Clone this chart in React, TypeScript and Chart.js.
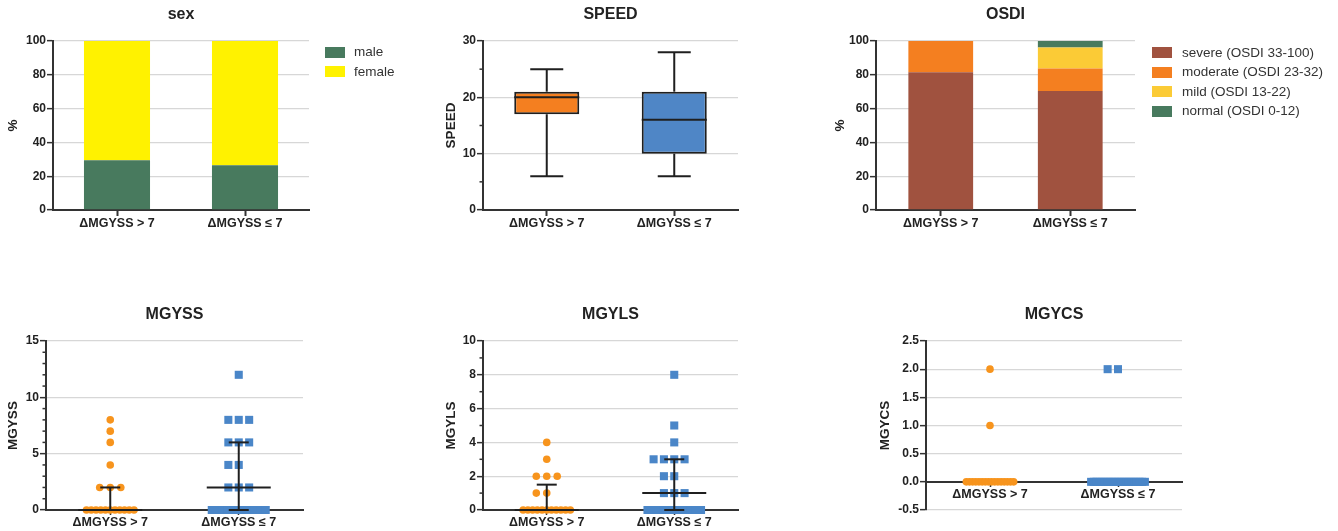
import React, { useEffect, useRef } from 'react';
import { Chart, registerables } from 'chart.js';

Chart.register(...registerables);

const FONT = "'Liberation Sans', Arial, Helvetica, sans-serif";
const AXIS_COLOR = '#333333';
const GRID_COLOR = '#d7d7d7';
const TEXT_COLOR = '#222222';
const MARK_COLOR = '#1f1f1f';
const ORANGE = '#f7941d';
const BLUE = '#4a86c8';

// ---------- data ----------
const groups = ['ΔMGYSS > 7', 'ΔMGYSS ≤ 7'];

const sexLabels = ['male', 'female'];
const sexMale = [29.4, 26.5];
const sexFemale = [70.6, 73.5];
const sexColors = ['#487a5e', '#fff200'];

const speedMin = [6, 6];
const speedQ1 = [17, 10];
const speedMedian = [20, 16];
const speedQ3 = [21, 21];
const speedMax = [25, 28];
const speedColors = ['#f47f20', '#4f86c6'];

const osdiLabels = ['severe (OSDI 33-100)', 'moderate (OSDI 23-32)', 'mild (OSDI 13-22)', 'normal (OSDI 0-12)'];
const osdiSevere = [81.5, 70.4];
const osdiModerate = [18.5, 13.3];
const osdiMild = [0, 12.5];
const osdiNormal = [0, 3.8];
const osdiColors = ['#a0523f', '#f47f20', '#fbcb36', '#487a5e'];

const mgyssGroup1 = [0, 0, 0, 0, 0, 0, 0, 0, 0, 0, 0, 2, 2, 2, 4, 6, 7, 8];
const mgyssGroup2 = [0, 0, 0, 0, 0, 0, 0, 0, 0, 0, 0, 2, 2, 2, 4, 4, 6, 6, 6, 8, 8, 8, 12];
const mgyssMedian = [0, 2];
const mgyssQ1 = [0, 0];
const mgyssQ3 = [2, 6];

const mgylsGroup1 = [0, 0, 0, 0, 0, 0, 0, 0, 0, 0, 0, 1, 1, 2, 2, 2, 3, 4];
const mgylsGroup2 = [0, 0, 0, 0, 0, 0, 0, 0, 0, 0, 0, 1, 1, 1, 2, 2, 3, 3, 3, 3, 4, 5, 8];
const mgylsMedian = [0, 1];
const mgylsQ1 = [0, 0];
const mgylsQ3 = [1.5, 3];

const mgycsGroup1 = [0, 0, 0, 0, 0, 0, 0, 0, 0, 0, 0, 0, 0, 0, 0, 0, 1, 2];
const mgycsGroup2 = [0, 0, 0, 0, 0, 0, 0, 0, 0, 0, 0, 0, 0, 0, 0, 0, 0, 0, 0, 0, 0, 2, 2];

// ---------- helpers ----------
// column scatter layout: points with equal value are spread side by side
function swarm(values: number[], center: number, step: number, span: number) {
  const counts = new Map<number, number>();
  values.forEach((v) => counts.set(v, (counts.get(v) || 0) + 1));
  const seen = new Map<number, number>();
  return values.map((v) => {
    const k = counts.get(v) as number;
    const i = seen.get(v) || 0;
    seen.set(v, i + 1);
    let off: number;
    if (k > 4) off = (i - (k - 1) / 2) * (span / (k - 1));
    else off = (i - Math.floor(k / 2)) * step;
    return { x: center + off, y: v };
  });
}

function yScale(o: { min: number; max: number; step: number; title: string; width: number; titlePad: number; decimals?: number }) {
  return {
    type: 'linear',
    position: 'left',
    min: o.min,
    max: o.max,
    ticks: {
      stepSize: o.step,
      autoSkip: false,
      color: TEXT_COLOR,
      padding: 1,
      font: { family: FONT, size: 12, weight: 'bold' },
      callback: (v: any) => (o.decimals ? Number(v).toFixed(o.decimals) : String(v)),
    },
    grid: {
      color: (c: any) => (c.tick && Math.abs(c.tick.value) < 1e-9 ? 'rgba(0,0,0,0)' : GRID_COLOR),
      lineWidth: 1.3,
      drawTicks: true,
      tickLength: 6,
      tickColor: AXIS_COLOR,
      tickWidth: 1.5,
    },
    border: { display: true, color: AXIS_COLOR, width: 2 },
    title: {
      display: true,
      text: o.title,
      color: TEXT_COLOR,
      font: { family: FONT, size: 13.5, weight: 'bold' },
      padding: { top: o.titlePad, bottom: 0 },
    },
    afterFit: (s: any) => {
      s.width = o.width;
    },
  };
}

function xCategory(stacked: boolean) {
  return {
    type: 'category',
    position: 'bottom',
    offset: true,
    stacked,
    grid: {
      display: true,
      drawOnChartArea: false,
      drawTicks: true,
      tickLength: 6,
      tickColor: AXIS_COLOR,
      tickWidth: 2,
      offset: false,
    },
    border: { display: true, color: AXIS_COLOR, width: 2 },
    ticks: {
      color: TEXT_COLOR,
      padding: 0,
      maxRotation: 0,
      autoSkip: false,
      font: { family: FONT, size: 12.5, weight: 'bold' },
    },
    afterFit: (s: any) => {
      s.height = 25;
    },
  };
}

function xGroups() {
  return {
    type: 'linear',
    position: { y: 0 },
    min: 0.5,
    max: 2.5,
    afterBuildTicks: (s: any) => {
      s.ticks = groups.map((_, i) => ({ value: i + 1 }));
    },
    grid: {
      display: true,
      drawOnChartArea: false,
      drawTicks: true,
      tickLength: 4,
      tickColor: AXIS_COLOR,
      tickWidth: 1.5,
    },
    border: { display: true, color: AXIS_COLOR, width: 2 },
    ticks: {
      color: TEXT_COLOR,
      padding: 1,
      maxRotation: 0,
      autoSkip: false,
      font: { family: FONT, size: 12.5, weight: 'bold' },
      callback: (v: any) => groups[Math.round(Number(v)) - 1] ?? '',
    },
  };
}

function titleOpt(text: string) {
  return {
    display: true,
    text,
    fullSize: false,
    color: TEXT_COLOR,
    font: { family: FONT, size: 16, weight: 'bold' },
    padding: { top: 5, bottom: 16.8 },
  };
}

function minorTicks(step: number, major: number) {
  return {
    id: 'minorTicks',
    afterDraw(chart: any) {
      const y = chart.scales.y;
      const ctx = chart.ctx;
      const left = chart.chartArea.left;
      const n = Math.round((y.max - y.min) / step);
      ctx.save();
      ctx.strokeStyle = AXIS_COLOR;
      ctx.lineWidth = 1.5;
      for (let k = 0; k <= n; k++) {
        const v = y.min + k * step;
        const r = v / major;
        if (Math.abs(r - Math.round(r)) < 1e-6) continue;
        const py = y.getPixelForValue(v);
        ctx.beginPath();
        ctx.moveTo(left - 3.5, py);
        ctx.lineTo(left, py);
        ctx.stroke();
      }
      ctx.restore();
    },
  };
}

function boxWhiskers() {
  return {
    id: 'boxWhiskers',
    afterDatasetsDraw(chart: any) {
      const x = chart.scales.x;
      const y = chart.scales.y;
      const ctx = chart.ctx;
      const meta = chart.getDatasetMeta(0);
      ctx.save();
      ctx.strokeStyle = MARK_COLOR;
      ctx.lineWidth = 2;
      groups.forEach((_, i) => {
        const px = x.getPixelForValue(i);
        const cap = 16.5;
        const seg = (x1: number, y1: number, x2: number, y2: number) => {
          ctx.beginPath();
          ctx.moveTo(x1, y1);
          ctx.lineTo(x2, y2);
          ctx.stroke();
        };
        seg(px, y.getPixelForValue(speedQ3[i]), px, y.getPixelForValue(speedMax[i]));
        seg(px, y.getPixelForValue(speedQ1[i]), px, y.getPixelForValue(speedMin[i]));
        seg(px - cap, y.getPixelForValue(speedMax[i]), px + cap, y.getPixelForValue(speedMax[i]));
        seg(px - cap, y.getPixelForValue(speedMin[i]), px + cap, y.getPixelForValue(speedMin[i]));
        const el = meta.data[i];
        const half = el.width / 2;
        seg(el.x - half, y.getPixelForValue(speedMedian[i]), el.x + half, y.getPixelForValue(speedMedian[i]));
      });
      ctx.restore();
    },
  };
}

function medianIqr(median: number[], q1: number[], q3: number[]) {
  return {
    id: 'medianIqr',
    afterDatasetsDraw(chart: any) {
      const x = chart.scales.x;
      const y = chart.scales.y;
      const ctx = chart.ctx;
      ctx.save();
      ctx.strokeStyle = MARK_COLOR;
      ctx.lineWidth = 2;
      const seg = (x1: number, y1: number, x2: number, y2: number) => {
        ctx.beginPath();
        ctx.moveTo(x1, y1);
        ctx.lineTo(x2, y2);
        ctx.stroke();
      };
      median.forEach((m, i) => {
        const px = x.getPixelForValue(i + 1);
        const cap = 10;
        const wide = 32;
        seg(px, y.getPixelForValue(q1[i]), px, y.getPixelForValue(q3[i]));
        seg(px - cap, y.getPixelForValue(q3[i]), px + cap, y.getPixelForValue(q3[i]));
        seg(px - cap, y.getPixelForValue(q1[i]), px + cap, y.getPixelForValue(q1[i]));
        seg(px - wide, y.getPixelForValue(m), px + wide, y.getPixelForValue(m));
      });
      ctx.restore();
    },
  };
}

function scatterSets(g1: number[], g2: number[]) {
  return [
    {
      data: swarm(g1, 1, 0.082, 0.37),
      pointStyle: 'circle',
      pointRadius: 3.8,
      pointHoverRadius: 3.8,
      backgroundColor: ORANGE,
      borderWidth: 0,
      clip: false,
    },
    {
      data: swarm(g2, 2, 0.081, 0.42),
      pointStyle: 'rect',
      pointRadius: 5.7,
      pointHoverRadius: 5.7,
      backgroundColor: BLUE,
      borderWidth: 0,
      clip: false,
    },
  ];
}

const common = {
  responsive: false,
  animation: false,
  events: [],
};

// ---------- configs ----------
type Geo = { left: number; top: number; width: number; height: number; yWidth: number; titlePad: number; padRight: number; padBottom: number };

const geoSex: Geo = { left: 0, top: 0, width: 362, height: 240, yWidth: 53, titlePad: 5, padRight: 53, padBottom: 5 };
const geoSpeed: Geo = { left: 430, top: 0, width: 360, height: 240, yWidth: 53, titlePad: 13, padRight: 52, padBottom: 5 };
const geoOsdi: Geo = { left: 823, top: 0, width: 370, height: 240, yWidth: 53, titlePad: 9, padRight: 58, padBottom: 5 };
const geoMgyss: Geo = { left: 0, top: 300, width: 346, height: 231, yWidth: 46, titlePad: 5, padRight: 43, padBottom: 21 };
const geoMgyls: Geo = { left: 430, top: 300, width: 360, height: 231, yWidth: 53, titlePad: 13, padRight: 52, padBottom: 21 };
const geoMgycs: Geo = { left: 873, top: 300, width: 360, height: 231, yWidth: 53, titlePad: 4, padRight: 51, padBottom: 21 };

function layout(g: Geo) {
  return { padding: { left: 0, top: 0, right: g.padRight, bottom: g.padBottom } };
}

function sexConfig(): any {
  const g = geoSex;
  return {
    type: 'bar',
    data: {
      labels: groups,
      datasets: [
        { label: sexLabels[0], data: sexMale, backgroundColor: sexColors[0], borderWidth: 0, barPercentage: 0.516, categoryPercentage: 1 },
        { label: sexLabels[1], data: sexFemale, backgroundColor: sexColors[1], borderWidth: 0, barPercentage: 0.516, categoryPercentage: 1 },
      ],
    },
    options: {
      ...common,
      layout: layout(g),
      plugins: { legend: { display: false }, tooltip: { enabled: false }, title: titleOpt('sex') },
      scales: {
        x: xCategory(true),
        y: { ...yScale({ min: 0, max: 100, step: 20, title: '%', width: g.yWidth, titlePad: g.titlePad }), stacked: true },
      },
    },
  };
}

function speedConfig(): any {
  const g = geoSpeed;
  return {
    type: 'bar',
    data: {
      labels: groups,
      datasets: [
        {
          label: 'SPEED',
          data: groups.map((_, i) => [speedQ1[i], speedQ3[i]]),
          backgroundColor: speedColors,
          borderColor: MARK_COLOR,
          borderWidth: 2,
          borderSkipped: false,
          barPercentage: 0.51,
          categoryPercentage: 1,
        },
      ],
    },
    options: {
      ...common,
      layout: layout(g),
      plugins: { legend: { display: false }, tooltip: { enabled: false }, title: titleOpt('SPEED') },
      scales: {
        x: xCategory(false),
        y: yScale({ min: 0, max: 30, step: 10, title: 'SPEED', width: g.yWidth, titlePad: g.titlePad }),
      },
    },
    plugins: [boxWhiskers(), minorTicks(5, 10)],
  };
}

function osdiConfig(): any {
  const g = geoOsdi;
  const series = [osdiSevere, osdiModerate, osdiMild, osdiNormal];
  return {
    type: 'bar',
    data: {
      labels: groups,
      datasets: series.map((d, i) => ({
        label: osdiLabels[i],
        data: d,
        backgroundColor: osdiColors[i],
        borderWidth: 0,
        barPercentage: 0.5,
        categoryPercentage: 1,
      })),
    },
    options: {
      ...common,
      layout: layout(g),
      plugins: { legend: { display: false }, tooltip: { enabled: false }, title: titleOpt('OSDI') },
      scales: {
        x: xCategory(true),
        y: { ...yScale({ min: 0, max: 100, step: 20, title: '%', width: g.yWidth, titlePad: g.titlePad }), stacked: true },
      },
    },
  };
}

function dotConfig(g: Geo, title: string, g1: number[], g2: number[], y: any, extra: any[]): any {
  return {
    type: 'scatter',
    data: { datasets: scatterSets(g1, g2) },
    options: {
      ...common,
      layout: layout(g),
      plugins: { legend: { display: false }, tooltip: { enabled: false }, title: titleOpt(title) },
      scales: { x: xGroups(), y },
    },
    plugins: extra,
  };
}

function mgyssConfig() {
  const g = geoMgyss;
  return dotConfig(g, 'MGYSS', mgyssGroup1, mgyssGroup2,
    yScale({ min: 0, max: 15, step: 5, title: 'MGYSS', width: g.yWidth, titlePad: g.titlePad }),
    [medianIqr(mgyssMedian, mgyssQ1, mgyssQ3), minorTicks(1, 5)]);
}

function mgylsConfig() {
  const g = geoMgyls;
  return dotConfig(g, 'MGYLS', mgylsGroup1, mgylsGroup2,
    yScale({ min: 0, max: 10, step: 2, title: 'MGYLS', width: g.yWidth, titlePad: g.titlePad }),
    [medianIqr(mgylsMedian, mgylsQ1, mgylsQ3), minorTicks(1, 2)]);
}

function mgycsConfig() {
  const g = geoMgycs;
  return dotConfig(g, 'MGYCS', mgycsGroup1, mgycsGroup2,
    yScale({ min: -0.5, max: 2.5, step: 0.5, title: 'MGYCS', width: g.yWidth, titlePad: g.titlePad, decimals: 1 }),
    []);
}

// ---------- components ----------
function ChartPanel({ geo, make }: { geo: Geo; make: () => any }) {
  const ref = useRef<HTMLCanvasElement>(null);
  useEffect(() => {
    const chart = new Chart(ref.current as HTMLCanvasElement, make());
    return () => chart.destroy();
  }, []);
  return (
    <canvas
      ref={ref}
      width={geo.width}
      height={geo.height}
      style={{ position: 'absolute', left: geo.left, top: geo.top, width: geo.width, height: geo.height }}
    />
  );
}

function Legend({ labels, colors, left, top, gap }: { labels: string[]; colors: string[]; left: number; top: number; gap: number }) {
  return (
    <>
      {labels.map((l, i) => (
        <div
          key={l}
          style={{
            position: 'absolute',
            left,
            top: top + i * 19.5 - 8,
            height: 16,
            display: 'flex',
            alignItems: 'center',
            whiteSpace: 'nowrap',
            zIndex: 2,
          }}
        >
          <div style={{ width: 20, height: 11, background: colors[i], marginRight: gap }} />
          <span style={{ fontFamily: FONT, fontSize: 13.5, color: '#333', lineHeight: '16px' }}>{l}</span>
        </div>
      ))}
    </>
  );
}

export default function App() {
  return (
    <div style={{ position: 'absolute', left: 0, top: 0, width: 1338, height: 531, background: '#fff', overflow: 'hidden' }}>
      <ChartPanel geo={geoSex} make={sexConfig} />
      <ChartPanel geo={geoSpeed} make={speedConfig} />
      <ChartPanel geo={geoOsdi} make={osdiConfig} />
      <ChartPanel geo={geoMgyss} make={mgyssConfig} />
      <ChartPanel geo={geoMgyls} make={mgylsConfig} />
      <ChartPanel geo={geoMgycs} make={mgycsConfig} />
      <Legend labels={sexLabels} colors={sexColors} left={325} top={52} gap={9} />
      <Legend labels={osdiLabels} colors={osdiColors} left={1152} top={52.5} gap={10} />
    </div>
  );
}
